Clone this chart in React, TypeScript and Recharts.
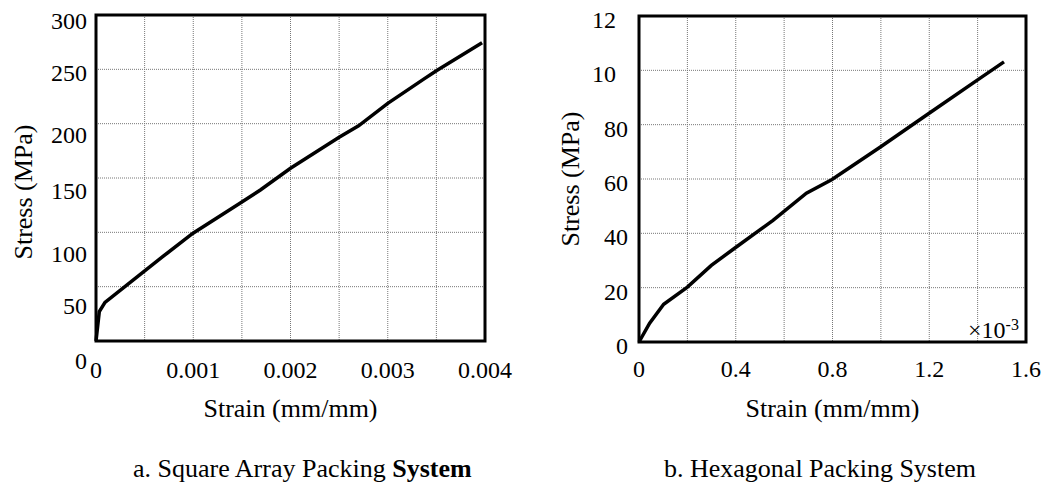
import React from 'react';
import { LineChart, Line, XAxis, YAxis, CartesianGrid, ReferenceArea, Label } from 'recharts';

const FONT = '"Liberation Serif", "Times New Roman", Times, serif';

// ---- (a) Square array packing system ----
const SQUARE_STRAIN = [0, 0.000034, 0.0000925, 0.000381, 0.000692, 0.000994, 0.00148, 0.00169, 0.002, 0.0025, 0.0027, 0.003, 0.00337, 0.0035, 0.00397];
const SQUARE_STRESS = [0, 27, 35.5, 56, 78, 99, 126.7, 139, 159, 187.5, 198, 218.7, 241, 248.7, 274.5];
const SQUARE_X_TICKS = [0, 0.0005, 0.001, 0.0015, 0.002, 0.0025, 0.003, 0.0035, 0.004];
const SQUARE_X_LABELS = ['0', '', '0.001', '', '0.002', '', '0.003', '', '0.004'];
const SQUARE_Y_TICKS = [0, 50, 100, 150, 200, 250, 300];
const SQUARE_Y_LABELS = ['0', '50', '100', '150', '200', '250', '300'];

// ---- (b) Hexagonal packing system (strain in ×10^-3) ----
const HEX_STRAIN = [0, 0.044, 0.102, 0.2, 0.299, 0.398, 0.554, 0.692, 0.798, 0.998, 1.198, 1.397, 1.509];
const HEX_STRESS = [0, 6.9, 13.9, 20.2, 28.2, 34.7, 44.8, 54.8, 59.8, 71.8, 84.1, 96.3, 103.1];
const HEX_X_TICKS = [0, 0.2, 0.4, 0.6, 0.8, 1.0, 1.2, 1.4, 1.6];
const HEX_X_LABELS = ['0', '', '0.4', '', '0.8', '', '1.2', '', '1.6'];
const HEX_Y_TICKS = [0, 20, 40, 60, 80, 100, 120];
const HEX_Y_LABELS = ['0', '20', '40', '60', '80', '10', '12'];

const X_TITLE = 'Strain (mm/mm)';
const Y_TITLE = 'Stress (MPa)';
const CAPTION_A = 'a. Square Array Packing ';
const CAPTION_A_BOLD = 'System';
const CAPTION_B = 'b. Hexagonal Packing System';

// style-only: vertical nudges of y tick labels (as printed in the scan)
const SQUARE_Y_NUDGE = [20, 19, 21, 13, 11, 3, 6];
const HEX_Y_NUDGE = [3.5, 3.5, 3.5, 3.5, 3.5, 3.5, 3.5];

const squareData = SQUARE_STRAIN.map((s, i) => ({ strain: s, stress: SQUARE_STRESS[i] }));
const hexData = HEX_STRAIN.map((s, i) => ({ strain: s, stress: HEX_STRESS[i] }));

const findIdx = (ticks: number[], v: number) => ticks.findIndex((t) => Math.abs(t - v) < 1e-9);

const tickStyle = { fill: '#000', fontSize: 24, fontFamily: FONT };
const titleStyle = { fill: '#000', fontSize: 26, fontFamily: FONT };

function makeYTick(ticks: number[], labels: string[], nudges: number[]) {
  return (props: any) => {
    const { x, y, payload } = props;
    const i = findIdx(ticks, payload.value);
    const label = i >= 0 ? labels[i] : '';
    const full = String(payload.value);
    const shift = Math.max(0, full.length - label.length) * 12;
    return (
      <text
        x={x - shift}
        y={y + (i >= 0 ? nudges[i] : 0)}
        dy="0.35em"
        textAnchor="end"
        fill="#000"
        fontSize={24}
        fontFamily={FONT}
      >
        {label}
      </text>
    );
  };
}

const gridProps = { stroke: '#777', strokeDasharray: '1 1', strokeWidth: 1 };

function SquareChart() {
  return (
    <LineChart width={520} height={432} data={squareData} margin={{ top: 15, right: 35, bottom: 0, left: 0 }}>
      <CartesianGrid {...gridProps} />
      <XAxis
        dataKey="strain"
        type="number"
        domain={[0, 0.004]}
        ticks={SQUARE_X_TICKS}
        interval={0}
        height={91}
        axisLine={false}
        tickLine={false}
        tickSize={0}
        tickMargin={20}
        tick={tickStyle}
        tickFormatter={(v: number) => {
          const i = findIdx(SQUARE_X_TICKS, v);
          return i >= 0 ? SQUARE_X_LABELS[i] : '';
        }}
      >
        <Label value={X_TITLE} position="insideBottom" offset={15} style={titleStyle} />
      </XAxis>
      <YAxis
        type="number"
        domain={[0, 300]}
        ticks={SQUARE_Y_TICKS}
        interval={0}
        width={96}
        axisLine={false}
        tickLine={false}
        tickSize={0}
        tickMargin={9}
        tick={makeYTick(SQUARE_Y_TICKS, SQUARE_Y_LABELS, SQUARE_Y_NUDGE)}
      >
        <Label value={Y_TITLE} position="center" angle={-90} dx={-25} dy={14} style={titleStyle} />
      </YAxis>
      <ReferenceArea x1={0} x2={0.004} y1={0} y2={300} fill="none" stroke="#000" strokeWidth={3} />
      <Line type="linear" dataKey="stress" stroke="#000" strokeWidth={3.5} dot={false} isAnimationActive={false} />
    </LineChart>
  );
}

function HexChart() {
  return (
    <LineChart width={527} height={432} data={hexData} margin={{ top: 16, right: 21, bottom: 0, left: 0 }}>
      <CartesianGrid {...gridProps} />
      <XAxis
        dataKey="strain"
        type="number"
        domain={[0, 1.6]}
        ticks={HEX_X_TICKS}
        interval={0}
        height={90}
        axisLine={false}
        tickLine={false}
        tickSize={0}
        tickMargin={18}
        tick={tickStyle}
        tickFormatter={(v: number) => {
          const i = findIdx(HEX_X_TICKS, v);
          return i >= 0 ? HEX_X_LABELS[i] : '';
        }}
      >
        <Label value={X_TITLE} position="insideBottom" offset={15} style={titleStyle} />
      </XAxis>
      <YAxis
        type="number"
        domain={[0, 120]}
        ticks={HEX_Y_TICKS}
        interval={0}
        width={119}
        axisLine={false}
        tickLine={false}
        tickSize={0}
        tickMargin={11}
        tick={makeYTick(HEX_Y_TICKS, HEX_Y_LABELS, HEX_Y_NUDGE)}
      >
        <Label value={Y_TITLE} position="center" angle={-90} dx={-9.5} dy={0} style={titleStyle} />
      </YAxis>
      <ReferenceArea x1={0} x2={1.6} y1={0} y2={120} fill="none" stroke="#000" strokeWidth={3} />
      <Line type="linear" dataKey="stress" stroke="#000" strokeWidth={3.5} dot={false} isAnimationActive={false} />
    </LineChart>
  );
}

export default function App() {
  return (
    <div style={{ position: 'absolute', left: 0, top: 0, width: 1047, height: 484, background: '#fff', overflow: 'hidden', fontFamily: FONT }}>
      <div style={{ position: 'absolute', left: 0, top: 0 }}>
        <SquareChart />
      </div>
      <div style={{ position: 'absolute', left: 520, top: 0 }}>
        <HexChart />
      </div>
      <svg width={1047} height={484} style={{ position: 'absolute', left: 0, top: 0, pointerEvents: 'none' }}>
        <text x={968} y={338} fontSize={24} fontFamily={FONT} fill="#000">
          ×10
          <tspan fontSize={16} dy={-8}>-3</tspan>
        </text>
        <text x={133} y={477} fontSize={26} fontFamily={FONT} fill="#000">
          {CAPTION_A}
          <tspan fontWeight="bold">{CAPTION_A_BOLD}</tspan>
        </text>
        <text x={664} y={477} fontSize={26} fontFamily={FONT} fill="#000">
          {CAPTION_B}
        </text>
      </svg>
    </div>
  );
}
